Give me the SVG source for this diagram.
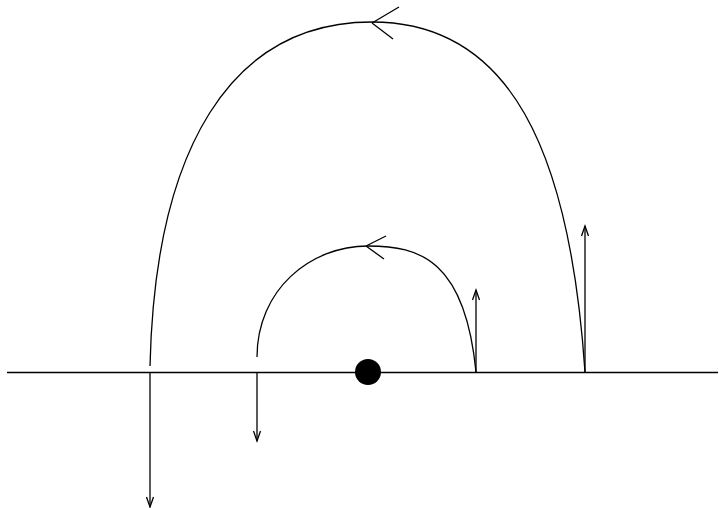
<svg xmlns="http://www.w3.org/2000/svg" width="719" height="508" viewBox="0 0 719 508">
<style>
.ln{fill:none;stroke:#000;stroke-width:1.3}
</style>
<defs>
<marker id="ah" viewBox="-12 -6 14 12" markerWidth="14" markerHeight="12" refX="0" refY="0" orient="auto" markerUnits="userSpaceOnUse">
<path d="M-10,-3.5 L0,0 L-10,3.5" fill="none" stroke="#000" stroke-width="1.3"/>
</marker>
</defs>
<g id="axis"><line class="ln" x1="7" y1="372.5" x2="718" y2="372.5"/></g>
<g id="center"><circle cx="368" cy="372" r="13" fill="#000"/></g>
<g id="connectors">
<path class="ln" d="M150,366 C155,150 230,22 372,22 C510,22 570,150 585,372"/>
<path class="ln" d="M372,23 L399,7 M372,23 L393,39"/>
<path class="ln" d="M257,357 C257,290 310,246 368,246 C420,246 465,260 476,372"/>
<path class="ln" d="M366,246 L386,236 M366,246 L384,259"/>
<line class="ln" x1="150" y1="372" x2="150" y2="507" marker-end="url(#ah)"/>
<line class="ln" x1="257" y1="372" x2="257" y2="441" marker-end="url(#ah)"/>
<line class="ln" x1="476" y1="372" x2="476" y2="290" marker-end="url(#ah)"/>
<line class="ln" x1="585" y1="372" x2="585" y2="226" marker-end="url(#ah)"/>
</g>
</svg>
